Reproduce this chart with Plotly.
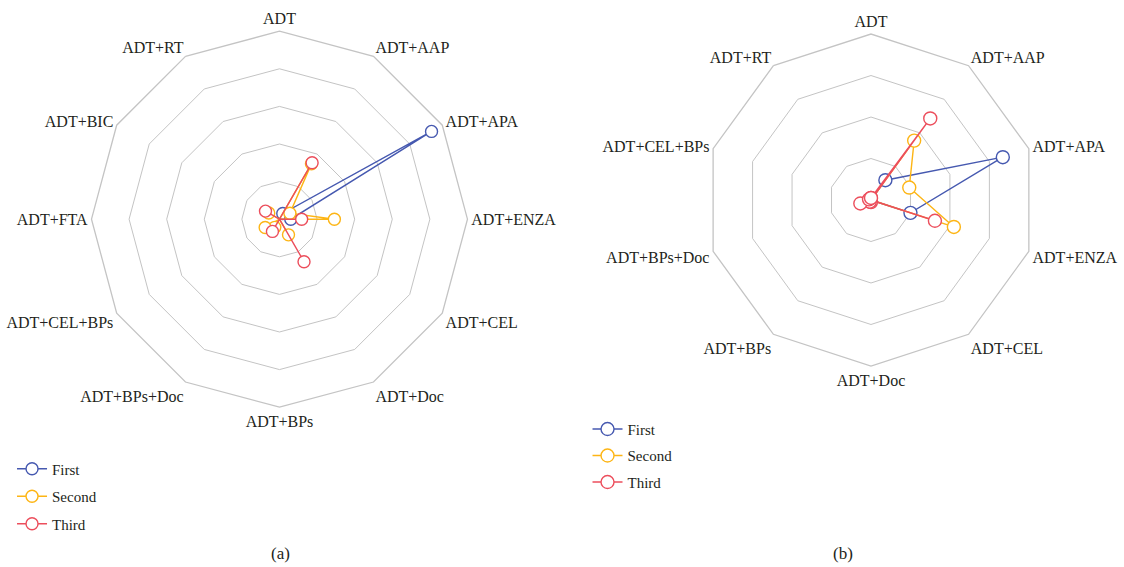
import plotly.graph_objects as go

# Treatment arms for each panel
cats_a = ["ADT", "ADT+AAP", "ADT+APA", "ADT+ENZA", "ADT+CEL", "ADT+Doc", "ADT+BPs",
          "ADT+BPs+Doc", "ADT+CEL+BPs", "ADT+FTA", "ADT+BIC", "ADT+RT"]
cats_b = ["ADT", "ADT+AAP", "ADT+APA", "ADT+ENZA", "ADT+CEL", "ADT+Doc", "ADT+BPs",
          "ADT+BPs+Doc", "ADT+CEL+BPs", "ADT+RT"]

# Ranking probabilities, panel (a)
first_a = [0.0, 0.035, 0.934, 0.06, 0.0, 0.0, 0.0, 0.0, 0.0, 0.0, 0.0, 0.0]
second_a = [0.0, 0.34, 0.064, 0.292, 0.0, 0.096, 0.0, 0.05, 0.088, 0.0, 0.066, 0.0]
third_a = [0.0, 0.347, 0.0, 0.118, 0.0, 0.261, 0.0, 0.075, 0.0, 0.0, 0.086, 0.0]

# Ranking probabilities, panel (b)
first_b = [0.0, 0.118, 0.668, 0.20, 0.0, 0.0, 0.0, 0.0, 0.0, 0.0]
second_b = [0.0, 0.354, 0.194, 0.42, 0.0, 0.0, 0.0, 0.0, 0.0, 0.0]
third_b = [0.01, 0.486, 0.0, 0.324, 0.0, 0.01, 0.01, 0.054, 0.01, 0.0]

series_names = ["First", "Second", "Third"]
colors = ["#4659B0", "#FDB515", "#EC4E5C"]

SERIF = "Liberation Serif"
GRID = "#c4c4c4"
TEXT = "#231f20"


def closed(seq):
    return list(seq) + [seq[0]]


fig = go.Figure()

for name, vals, col in zip(series_names, [first_a, second_a, third_a], colors):
    fig.add_trace(go.Scatterpolar(
        r=closed(vals), theta=closed(cats_a), name=name, mode="lines+markers",
        subplot="polar", legend="legend", legendgroup="a_" + name,
        line=dict(color=col, width=1.4),
        marker=dict(symbol="circle", size=12, color="white", line=dict(color=col, width=1.4)),
    ))

for name, vals, col in zip(series_names, [first_b, second_b, third_b], colors):
    fig.add_trace(go.Scatterpolar(
        r=closed(vals), theta=closed(cats_b), name=name, mode="lines+markers",
        subplot="polar2", legend="legend2", legendgroup="b_" + name,
        line=dict(color=col, width=1.4),
        marker=dict(symbol="circle", size=13, color="white", line=dict(color=col, width=1.4)),
    ))


def polar_style(domain_x, domain_y, rmax):
    return dict(
        domain=dict(x=domain_x, y=domain_y),
        bgcolor="white",
        gridshape="linear",
        radialaxis=dict(range=[0, rmax], dtick=0.2, showticklabels=False, ticks="",
                        showline=False, gridcolor=GRID, gridwidth=1.3),
        angularaxis=dict(rotation=90, direction="clockwise", showgrid=False,
                         showline=True, linecolor=GRID, linewidth=1.3, ticks="",
                         tickfont=dict(family=SERIF, size=16, color=TEXT)),
    )


legend_font = dict(family=SERIF, size=15, color=TEXT)
label_font = dict(family=SERIF, size=17, color=TEXT)

fig.update_layout(
    width=1124, height=567,
    margin=dict(l=0, r=0, t=0, b=0),
    paper_bgcolor="white",
    showlegend=True,
    polar=polar_style([0.0814, 0.4159], [0.2818, 0.945], 1.0),
    polar2=polar_style([0.6272, 0.9226], [0.3545, 0.940], 0.8),
    legend=dict(x=0.0107, y=0.202, xanchor="left", yanchor="top", font=legend_font,
                tracegroupgap=5, bgcolor="rgba(0,0,0,0)"),
    legend2=dict(x=0.5227, y=0.272, xanchor="left", yanchor="top", font=legend_font,
                 tracegroupgap=4, bgcolor="rgba(0,0,0,0)"),
    annotations=[
        dict(text="(a)", x=280 / 1124, y=1 - 553 / 567, xref="paper", yref="paper",
             xanchor="center", yanchor="middle", showarrow=False, font=label_font),
        dict(text="(b)", x=843 / 1124, y=1 - 553 / 567, xref="paper", yref="paper",
             xanchor="center", yanchor="middle", showarrow=False, font=label_font),
    ],
)

fig.write_html("out.html")
